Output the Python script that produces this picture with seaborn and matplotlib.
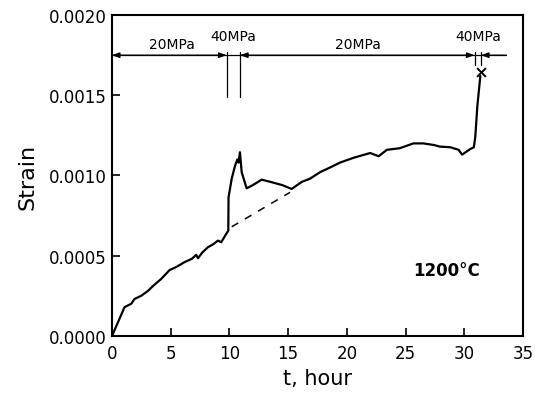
import matplotlib
matplotlib.use("Agg")
import matplotlib.pyplot as plt
import seaborn as sns
import pandas as pd
from matplotlib.ticker import FormatStrFormatter

# creep curve
time_h = [0, 0.09, 0.65, 1.08, 1.65, 1.93, 2.5, 3.07, 3.49, 4.2, 4.91, 5.5, 6.19,
          6.8, 7.18, 7.33, 7.7, 8.18, 8.6, 9.03, 9.31, 9.6, 9.91, 9.93, 10.2,
          10.48, 10.68, 10.78, 10.9, 11.05, 11.47, 12.0, 12.75, 13.5, 14.5, 15.3,
          16.16, 16.86, 17.7, 18.57, 19.4, 20.55, 21.98, 22.7, 23.4, 24.5, 25.66,
          26.5, 27.4, 27.9, 28.8, 29.5, 29.8, 30.5, 30.8, 30.92, 31.1, 31.35]
strain = [0, 0.000012, 0.000106, 0.000179, 0.0002, 0.00023, 0.00025, 0.00028,
          0.00031, 0.000355, 0.00041, 0.00043, 0.00046, 0.00048, 0.000505,
          0.000484, 0.00052, 0.000553, 0.00057, 0.000594, 0.000584, 0.00062,
          0.000656, 0.000864, 0.00098, 0.00106, 0.0011, 0.00108, 0.001145,
          0.00102, 0.00092, 0.00094, 0.000974, 0.00096, 0.00094, 0.000916,
          0.00096, 0.00098, 0.00102, 0.00105, 0.00108, 0.00111, 0.00114, 0.00112,
          0.00116, 0.00117, 0.0012, 0.0012, 0.00119, 0.00118, 0.001176, 0.00116,
          0.00113, 0.001165, 0.001176, 0.00124, 0.001435, 0.00162]

# extrapolated primary creep (dashed)
dash_t = [10.2, 15.16]
dash_strain = [0.00068, 0.000895]

# fracture point
fracture_t = [31.4]
fracture_strain = [0.001643]

# stress changes
change_t = [9.77, 10.9, 30.86, 31.4]
stress_labels = ["20MPa", "40MPa", "20MPa", "40MPa"]
label_t = [5.1, 10.3, 20.95, 31.2]
label_strain = [0.00182, 0.00187, 0.00182, 0.00187]
arrow_y = 0.00175

df = pd.DataFrame({"t": time_h, "strain": strain})

sns.set_style("ticks")
plt.rcParams["font.family"] = ["DejaVu Sans"]

fig = plt.figure(figsize=(5.35, 4.02), dpi=100)
ax = fig.add_axes([0.209, 0.162, 0.769, 0.798])

sns.lineplot(data=df, x="t", y="strain", sort=False, color="black", lw=1.6, ax=ax)
sns.lineplot(x=dash_t, y=dash_strain, color="black", lw=1.1, ax=ax,
             linestyle=(0, (5, 5)))
ax.scatter(fracture_t, fracture_strain, marker="x", color="black", s=40, lw=1.4,
           zorder=5)

# stress schedule annotations
ax.plot([0, 33.56], [arrow_y, arrow_y], color="black", lw=0.9)
for t in change_t[:2]:
    ax.plot([t, t], [0.00177, 0.00149], color="black", lw=0.9)
for t in change_t[2:]:
    ax.plot([t, t], [0.00177, 0.00169], color="black", lw=0.9)

ap = dict(arrowstyle="<|-|>,head_length=0.45,head_width=0.16", color="black",
          lw=0.9, shrinkA=0, shrinkB=0)
ax.annotate("", xy=(0, arrow_y), xytext=(change_t[0], arrow_y), arrowprops=ap)
ax.annotate("", xy=(change_t[1], arrow_y), xytext=(change_t[2], arrow_y), arrowprops=ap)
ap1 = dict(arrowstyle="-|>,head_length=0.45,head_width=0.16", color="black",
           lw=0.9, shrinkA=0, shrinkB=0)
ax.annotate("", xy=(change_t[3], arrow_y), xytext=(33.56, arrow_y), arrowprops=ap1)

for lab, x, y in zip(stress_labels, label_t, label_strain):
    ax.text(x, y, lab, ha="center", va="center", fontsize=10, color="black")

ax.text(25.6, 0.00041, "1200°C", ha="left", va="center", fontsize=12,
        fontweight="bold", color="black")

ax.set_xlim(0, 35)
ax.set_ylim(0, 0.002)
ax.set_xticks([0, 5, 10, 15, 20, 25, 30, 35])
ax.set_yticks([0, 0.0005, 0.001, 0.0015, 0.002])
ax.yaxis.set_major_formatter(FormatStrFormatter("%.4f"))
ax.tick_params(direction="in", length=6, width=1.2, labelsize=12, colors="black")
ax.tick_params(axis="x", pad=6)
for s in ax.spines.values():
    s.set_visible(True)
    s.set_linewidth(1.5)
    s.set_color("black")

ax.set_xlabel("t, hour", fontsize=15, labelpad=4, color="black")
ax.set_ylabel("Strain", fontsize=16, labelpad=8, color="black")

fig.savefig("out.png", dpi=100)
